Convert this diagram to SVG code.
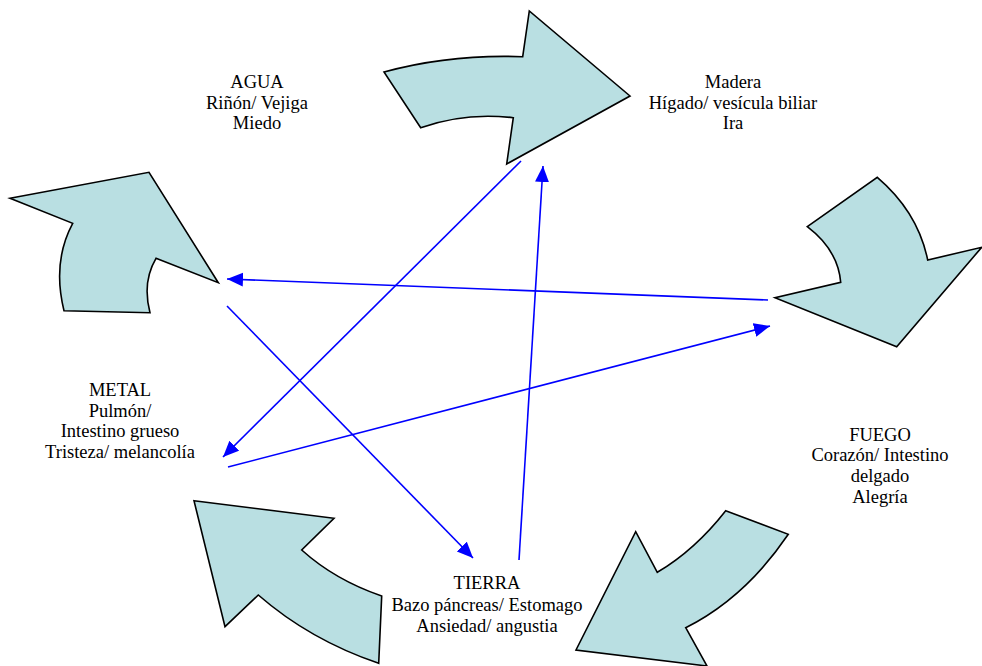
<svg xmlns="http://www.w3.org/2000/svg" width="982" height="666" viewBox="0 0 982 666">
  <style>
    .big { fill: #b9dfe2; stroke: #000; stroke-width: 1.6; stroke-linejoin: miter; }
    .link { stroke: #0000ff; stroke-width: 1.6; fill: none; marker-end: url(#head); }
    .lbl { font-family: "Liberation Serif", "Times New Roman", serif; font-size: 18.5px; fill: #000; text-anchor: middle; }
  </style>
  <defs>
    <marker id="head" markerUnits="userSpaceOnUse" markerWidth="18" markerHeight="16" refX="16" refY="7" orient="auto">
      <path d="M0,0 L16,7 L0,14 z" fill="#0000ff"/>
    </marker>
  </defs>
  <rect width="982" height="666" fill="#fff"/>

  <!-- curved block arrows of the cycle -->
  <g id="arrow-top">
    <path class="big" d="M384,72 Q450,54 522.7,56.7 L529.3,11 L630,96 L506.7,164 L513.3,117.7 Q465,112 420.7,127.7 Z"/>
  </g>
  <g id="arrow-right">
    <path class="big" d="M807.3,226.7 L877.3,177.3 Q918,212 927.7,260 L981.7,247.3 L896.7,346.7 L775,297.7 L840.7,282.3 Q838,250 807.3,226.7 Z"/>
  </g>
  <g id="arrow-bottom-right">
    <path class="big" d="M725.7,510.7 L788.3,534.3 Q745,598 685.7,627.7 L707,666 L576,650 L635.7,531.7 L657.3,572.3 Q695,550 725.7,510.7 Z"/>
  </g>
  <g id="arrow-bottom-left">
    <path class="big" d="M194,500.7 L334,518.3 L301.7,550 Q335,580 381.7,596 L378.7,663.3 Q310,640 258.3,595 L225,626.7 Z"/>
  </g>
  <g id="arrow-left">
    <path class="big" d="M10,198.3 L149,172.3 L218.3,282.7 L156,258.3 Q142,282 150,312.7 L64,310.7 Q52,262 72.7,223.3 Z"/>
  </g>

  <!-- labels -->
  <g id="agua">
    <text class="lbl" x="257" y="88">AGUA</text>
    <text class="lbl" x="257" y="109">Riñón/ Vejiga</text>
    <text class="lbl" x="257" y="129">Miedo</text>
  </g>
  <g id="madera">
    <text class="lbl" x="733" y="88">Madera</text>
    <text class="lbl" x="733" y="109">Hígado/ vesícula biliar</text>
    <text class="lbl" x="733" y="129">Ira</text>
  </g>
  <g id="metal">
    <text class="lbl" x="120" y="396">METAL</text>
    <text class="lbl" x="120" y="417">Pulmón/</text>
    <text class="lbl" x="120" y="437">Intestino grueso</text>
    <text class="lbl" x="120" y="458">Tristeza/ melancolía</text>
  </g>
  <g id="fuego">
    <text class="lbl" x="880" y="441">FUEGO</text>
    <text class="lbl" x="880" y="461">Corazón/ Intestino</text>
    <text class="lbl" x="880" y="482">delgado</text>
    <text class="lbl" x="880" y="503">Alegría</text>
  </g>
  <g id="tierra">
    <text class="lbl" x="487" y="589">TIERRA</text>
    <text class="lbl" x="487" y="611">Bazo páncreas/ Estomago</text>
    <text class="lbl" x="487" y="632">Ansiedad/ angustia</text>
  </g>

  <!-- control lines of the star -->
  <g id="connectors">
    <line class="link" x1="521" y1="161" x2="223" y2="457"/>
    <line class="link" x1="519" y1="560" x2="543" y2="166"/>
    <line class="link" x1="768" y1="300" x2="227" y2="279"/>
    <line class="link" x1="228" y1="467" x2="770" y2="326"/>
    <line class="link" x1="227" y1="306" x2="473" y2="558"/>
  </g>
</svg>
